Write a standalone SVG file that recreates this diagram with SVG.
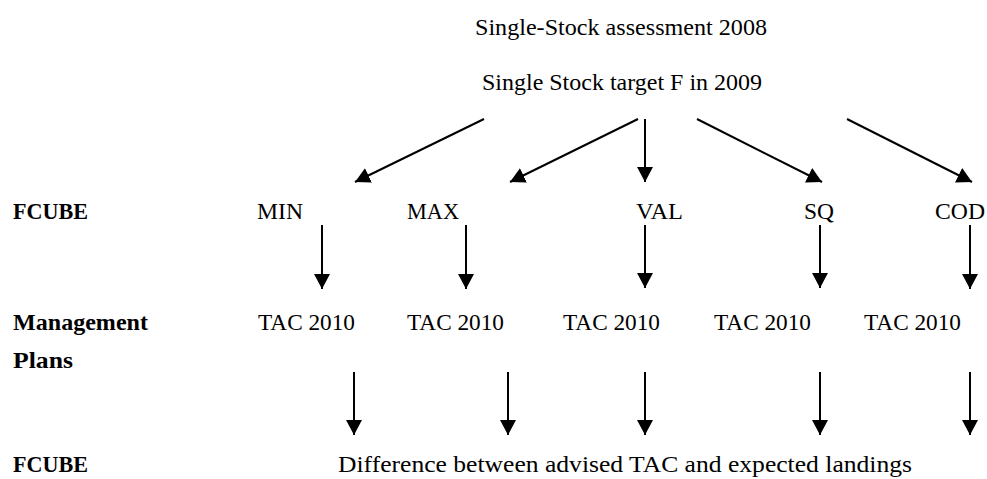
<svg xmlns="http://www.w3.org/2000/svg" width="987" height="479" viewBox="0 0 987 479">
<style>
text { font-family: "Liberation Serif", "Times New Roman", serif; font-size: 23px; fill: #000; }
.b { font-weight: bold; }
.c line { stroke: #000; stroke-width: 2; marker-end: url(#ah); }
</style>
<defs>
<marker id="ah" markerUnits="userSpaceOnUse" markerWidth="15" markerHeight="16" refX="15" refY="8" orient="auto" viewBox="0 0 15 16">
<path d="M0,0 L15,8 L0,16 z" fill="#000"/>
</marker>
</defs>
<rect width="987" height="479" fill="#fff"/>
<g id="assessment"><text x="475" y="35" textLength="292" lengthAdjust="spacingAndGlyphs">Single-Stock assessment 2008</text></g>
<g id="target"><text x="482" y="90" textLength="280" lengthAdjust="spacingAndGlyphs">Single Stock target F in 2009</text></g>
<g id="row-fcube"><text class="b" x="13" y="219" textLength="75" lengthAdjust="spacingAndGlyphs">FCUBE</text></g>
<g id="min"><text x="257" y="219" textLength="46" lengthAdjust="spacingAndGlyphs">MIN</text></g>
<g id="max"><text x="407" y="219" textLength="52" lengthAdjust="spacingAndGlyphs">MAX</text></g>
<g id="val"><text x="636" y="219" textLength="47" lengthAdjust="spacingAndGlyphs">VAL</text></g>
<g id="sq"><text x="804" y="219" textLength="30" lengthAdjust="spacingAndGlyphs">SQ</text></g>
<g id="cod"><text x="935" y="219" textLength="50" lengthAdjust="spacingAndGlyphs">COD</text></g>
<g id="row-mp"><text class="b" x="13" y="330" textLength="135" lengthAdjust="spacingAndGlyphs">Management</text><text class="b" x="13" y="368" textLength="60" lengthAdjust="spacingAndGlyphs">Plans</text></g>
<g id="tac-min"><text x="258" y="330" textLength="97" lengthAdjust="spacingAndGlyphs">TAC 2010</text></g>
<g id="tac-max"><text x="407" y="330" textLength="97" lengthAdjust="spacingAndGlyphs">TAC 2010</text></g>
<g id="tac-val"><text x="563" y="330" textLength="97" lengthAdjust="spacingAndGlyphs">TAC 2010</text></g>
<g id="tac-sq"><text x="714" y="330" textLength="97" lengthAdjust="spacingAndGlyphs">TAC 2010</text></g>
<g id="tac-cod"><text x="864" y="330" textLength="97" lengthAdjust="spacingAndGlyphs">TAC 2010</text></g>
<g id="row-fcube2"><text class="b" x="13" y="472" textLength="75" lengthAdjust="spacingAndGlyphs">FCUBE</text></g>
<g id="difference"><text x="338" y="472" textLength="574" lengthAdjust="spacingAndGlyphs">Difference between advised TAC and expected landings</text></g>
<g id="connectors" class="c">
<line x1="484" y1="119" x2="355" y2="182"/>
<line x1="638" y1="119" x2="510" y2="182"/>
<line x1="645" y1="119" x2="645" y2="182"/>
<line x1="697" y1="119" x2="822" y2="182"/>
<line x1="847" y1="119" x2="972" y2="182"/>
<line x1="322" y1="225" x2="322" y2="289"/>
<line x1="466" y1="225" x2="466" y2="289"/>
<line x1="645" y1="225" x2="645" y2="288"/>
<line x1="820" y1="225" x2="820" y2="288"/>
<line x1="970" y1="225" x2="970" y2="289"/>
<line x1="354" y1="372" x2="354" y2="435"/>
<line x1="508" y1="372" x2="508" y2="435"/>
<line x1="645" y1="372" x2="645" y2="435"/>
<line x1="820" y1="372" x2="820" y2="435"/>
<line x1="970" y1="372" x2="970" y2="435"/>
</g>
</svg>
